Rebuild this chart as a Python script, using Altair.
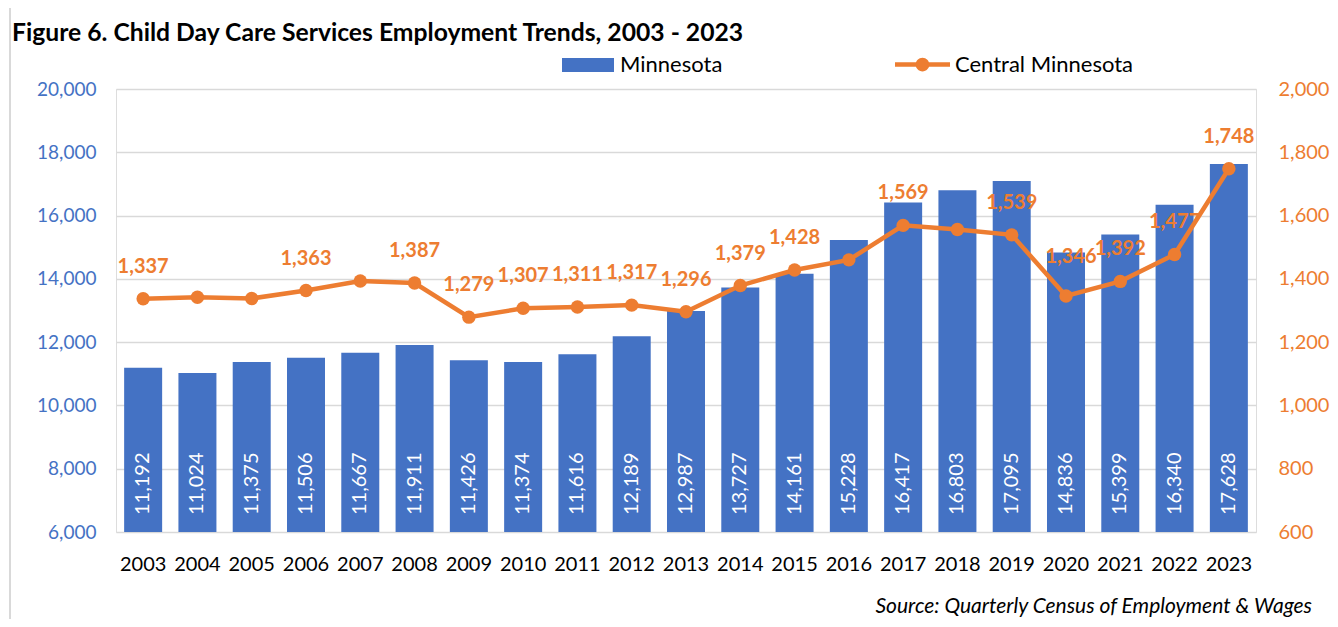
import altair as alt
import pandas as pd

# ---------------- data ----------------
years = ["2003", "2004", "2005", "2006", "2007", "2008", "2009", "2010", "2011", "2012",
         "2013", "2014", "2015", "2016", "2017", "2018", "2019", "2020", "2021", "2022", "2023"]
minnesota = [11192, 11024, 11375, 11506, 11667, 11911, 11426, 11374, 11616, 12189,
             12987, 13727, 14161, 15228, 16417, 16803, 17095, 14836, 15399, 16340, 17628]
central = [1337, 1342, 1338, 1363, 1393, 1387, 1279, 1307, 1311, 1317,
           1296, 1379, 1428, 1460, 1569, 1556, 1539, 1346, 1392, 1477, 1748]
labeled_years = ["2003", "2006", "2008", "2009", "2010", "2011", "2012", "2013", "2014",
                 "2015", "2017", "2019", "2021", "2022", "2023"]
moved_label_years = ["2020"]
left_ticks = [6000, 8000, 10000, 12000, 14000, 16000, 18000, 20000]
right_ticks = [600, 800, 1000, 1200, 1400, 1600, 1800, 2000]

title_text = "Figure 6. Child Day Care Services Employment Trends, 2003 - 2023"
source_text = "Source: Quarterly Census of Employment & Wages"

BLUE = "#4472C4"
ORANGE = "#ED7D31"
GRID = "#D9D9D9"
FONT = "Lato"

df = pd.DataFrame({
    "Year": years,
    "Minnesota": minnesota,
    "Central": central,
    "s1": ["Minnesota"] * len(years),
    "s2": ["Central Minnesota"] * len(years),
})
df["lab"] = df["Year"].isin(labeled_years)
df["moved"] = df["Year"].isin(moved_label_years)

W, H = 1140, 443

x_enc = alt.X("Year:N", sort=years,
              scale=alt.Scale(paddingInner=0.3, paddingOuter=0.15),
              axis=alt.Axis(title=None, labelAngle=0, ticks=False, domain=False, grid=False,
                            labelFont=FONT, labelFontSize=20, labelColor="black",
                            labelPadding=22))

base = alt.Chart(df)

bars = base.mark_bar(color=BLUE, clip=True).encode(
    x=x_enc,
    y=alt.Y("Minnesota:Q",
            scale=alt.Scale(domain=[6000, 20000], nice=False, zero=False),
            axis=alt.Axis(title=None, values=left_ticks, format=",.0f", ticks=False, domain=False,
                          grid=True, gridColor=GRID, gridWidth=1.5,
                          labelFont=FONT, labelFontSize=19, labelColor=BLUE,
                          labelPadding=20)),
    color=alt.Color("s1:N", scale=alt.Scale(domain=["Minnesota"], range=[BLUE]),
                    legend=alt.Legend(title=None, orient="none", legendX=446, legendY=-50,
                                      symbolType="M-1,-0.27H1V0.27H-1Z", symbolSize=2704,
                                      symbolStrokeWidth=0, labelFont=FONT, labelFontSize=22,
                                      labelColor="black", labelOffset=6, labelLimit=400)),
)

bar_text = base.mark_text(angle=270, align="left", baseline="middle", color="white",
                          font=FONT, fontSize=20).encode(
    x=alt.X("Year:N", sort=years),
    y=alt.value(H - 17),
    text=alt.Text("Minnesota:Q", format=","),
)

bar_layer = alt.layer(bars, bar_text)

y_right = alt.Y("Central:Q",
                scale=alt.Scale(domain=[600, 2000], nice=False, zero=False),
                axis=alt.Axis(title=None, orient="right", values=right_ticks, format=",.0f",
                              ticks=False, domain=False, grid=False,
                              labelFont=FONT, labelFontSize=20, labelColor=ORANGE,
                              labelPadding=22))

line_labels = base.transform_filter("datum.lab").mark_text(
    color=ORANGE, font=FONT, fontSize=20, fontWeight="bold", baseline="middle", dy=-32
).encode(x=alt.X("Year:N", sort=years), y=y_right, text=alt.Text("Central:Q", format=","))

moved_labels = base.transform_filter("datum.moved").mark_text(
    color=ORANGE, font=FONT, fontSize=20, fontWeight="bold", baseline="middle", dx=5, dy=-39
).encode(x=alt.X("Year:N", sort=years), y=y_right, text=alt.Text("Central:Q", format=","))

line = base.mark_line(color=ORANGE, strokeWidth=4.5).encode(
    x=alt.X("Year:N", sort=years), y=y_right)

LEG_PATH = ("M-1,-0.08H1V0.08H-1Z "
            "M-0.25,0A0.25,0.25 0 1,1 0.25,0A0.25,0.25 0 1,1 -0.25,0Z")

points = base.mark_point(filled=True, size=180, opacity=1).encode(
    x=alt.X("Year:N", sort=years), y=y_right,
    color=alt.Color("s2:N", scale=alt.Scale(domain=["Central Minnesota"], range=[ORANGE]),
                    legend=alt.Legend(title=None, orient="none", legendX=779, legendY=-52,
                                      symbolType=LEG_PATH, symbolSize=3025,
                                      symbolStrokeWidth=0, symbolOpacity=1,
                                      labelFont=FONT, labelFontSize=22,
                                      labelColor="black", labelOffset=5, labelLimit=400)),
)

line_layer = alt.layer(line_labels, moved_labels, line, points)

one = pd.DataFrame({"t": [title_text], "s": [source_text]})

frame = alt.Chart(one).mark_rect(fillOpacity=0, stroke=GRID, strokeWidth=2).encode(
    x=alt.value(-106), x2=alt.value(1300), y=alt.value(-86), y2=alt.value(700))

title = alt.Chart(one).mark_text(align="left", baseline="middle", font=FONT, fontSize=24.7,
                                 fontWeight="bold", color="black").encode(
    x=alt.value(-104), y=alt.value(-55), text="t:N")

source = alt.Chart(one).mark_text(align="right", baseline="alphabetic", font=FONT,
                                  fontSize=21, fontStyle="italic", color="black").encode(
    x=alt.value(1196), y=alt.value(H + 81), text="s:N")

chart = alt.layer(frame, title, source, bar_layer, line_layer).resolve_scale(
    y="independent", color="independent"
).properties(
    width=W, height=H,
    autosize=alt.AutoSizeParams(type="none"),
    padding={"left": 108, "top": 81, "right": 74, "bottom": 87},
).configure_view(stroke=None).configure(background="white")

chart.save("out.html", embed_options={"renderer": "svg", "actions": False})
